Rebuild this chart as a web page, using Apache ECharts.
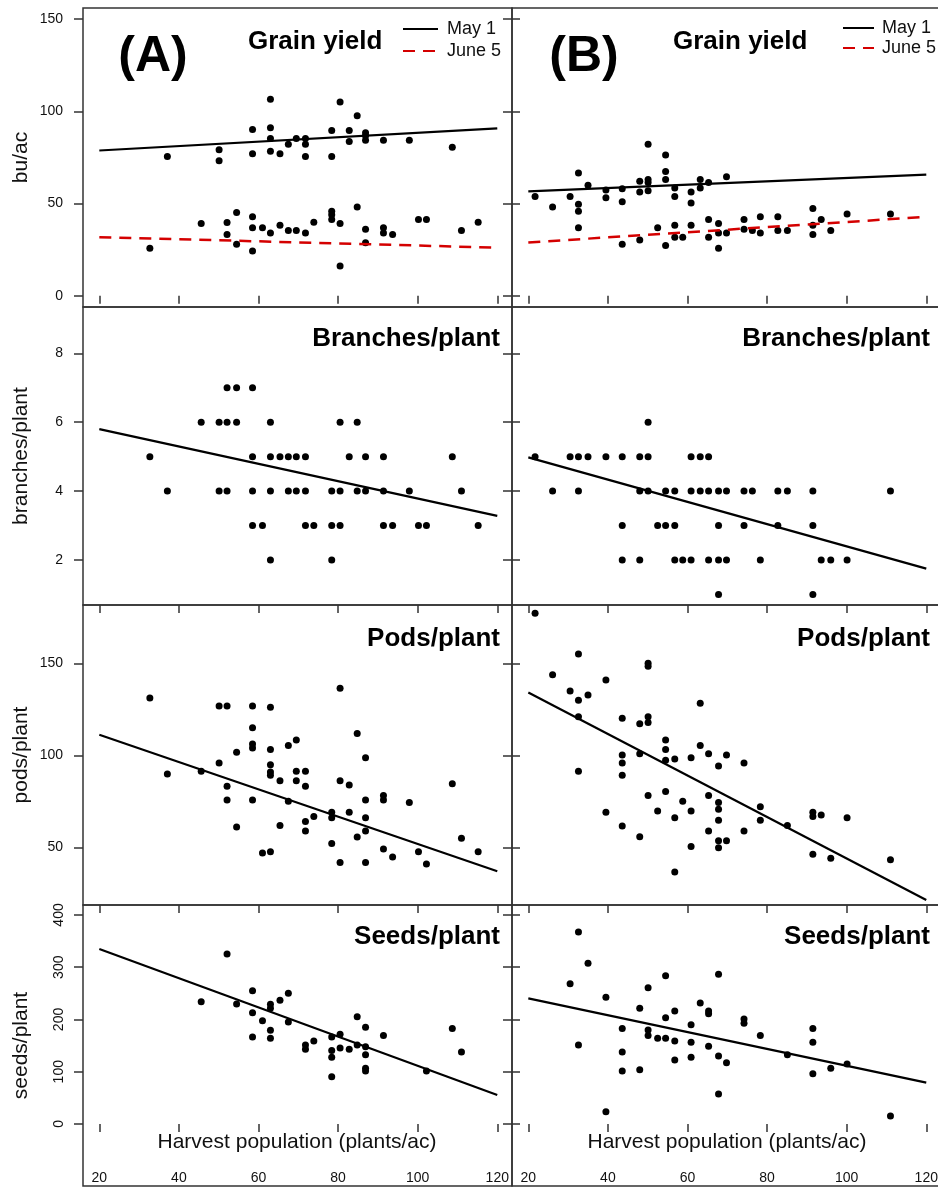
<!DOCTYPE html>
<html>
<head>
<meta charset="utf-8">
<script src="https://cdn.jsdelivr.net/npm/echarts@6.0.0/dist/echarts.min.js"></script>
<style>
html, body { margin: 0; padding: 0; background: #fff; overflow: hidden; }
#main { width: 946px; height: 1190px; }
</style>
</head>
<body>
<div id="main"></div>
<script>
var FONT = '"Liberation Sans", Arial, sans-serif';
var INK = '#111';

// x axis: harvest population (1000 plants/ac)
var xTicks = [20, 40, 60, 80, 100, 120];
var xMin = 15.9, xMax = 123.7;

// rows
var rowNames = ['bu/ac', 'branches/plant', 'pods/plant', 'seeds/plant'];
var rowTitles = ['Grain yield', 'Branches/plant', 'Pods/plant', 'Seeds/plant'];
var rowMin = [-6.1, 0.694, 18.64, -118.7];
var rowMax = [156.1, 9.344, 181.7, 419.1];
var rowTicks = [[0, 50, 100, 150], [2, 4, 6, 8], [50, 100, 150], [0, 100, 200, 300, 400]];

// (A) grain yield
var yieldMayA = [[37.1,75.5],[50.1,79.2],[50.1,73.2],[58.5,90.2],[58.5,77.0],[63.0,106.6],[63.0,91.1],[63.0,85.3],[63.0,78.4],[65.4,77.0],[67.5,82.2],[69.5,85.3],[71.8,85.3],[71.8,82.2],[71.8,75.5],[78.4,89.7],[78.4,75.5],[80.5,105.1],[82.8,89.7],[82.8,83.7],[84.8,97.7],[86.9,88.4],[86.9,86.8],[86.9,84.4],[91.4,84.4],[97.9,84.4],[108.7,80.6]];
var yieldJunA = [[32.7,25.8],[45.6,39.2],[52.1,39.8],[52.1,33.2],[54.5,45.2],[54.5,28.0],[58.5,42.8],[58.5,36.9],[58.5,24.3],[61.0,36.9],[63.0,34.0],[65.4,38.3],[67.5,35.4],[69.5,35.4],[71.8,34.0],[73.9,39.9],[78.4,45.8],[78.4,43.9],[78.4,41.4],[80.5,39.2],[80.5,16.2],[84.8,48.1],[86.9,36.1],[86.9,28.7],[91.4,36.9],[91.4,34.0],[93.7,33.2],[100.2,41.4],[102.2,41.4],[111.0,35.4],[115.2,39.9]];
var fitMayA = [[20, 78.8], [120, 90.8]];
var fitJunA = [[20, 31.8], [120, 26.1]];

// (B) grain yield
var yieldMayB = [[21.7,53.9],[26.1,48.1],[30.5,53.9],[32.6,66.6],[32.6,49.6],[32.6,45.9],[35.0,59.9],[39.5,57.4],[39.5,53.2],[43.6,58.1],[43.6,51.0],[48.0,62.1],[48.0,56.3],[50.1,82.2],[50.1,63.0],[50.1,61.4],[50.1,57.0],[54.5,76.3],[54.5,67.4],[54.5,63.0],[56.8,58.5],[56.8,53.9],[60.9,56.3],[60.9,50.3],[63.2,63.0],[63.2,58.5],[65.3,61.4],[69.8,64.5]];
var yieldJunB = [[32.6,36.9],[43.6,28.0],[48.0,30.3],[52.5,36.9],[54.5,27.2],[56.8,38.3],[56.8,31.8],[58.8,31.8],[60.9,38.3],[65.3,41.4],[65.3,31.8],[67.8,39.2],[67.8,34.0],[67.8,25.8],[69.8,34.0],[74.2,41.4],[74.2,36.1],[76.3,35.4],[78.3,42.8],[78.3,34.0],[82.7,42.8],[82.7,35.4],[85.1,35.4],[91.5,47.4],[91.5,38.3],[91.5,33.2],[93.6,41.4],[96.0,35.4],[100.1,44.3],[111.0,44.3]];
var fitMayB = [[20, 56.6], [120, 65.7]];
var fitJunB = [[20, 28.9], [120, 42.8]];

// branches/plant
var branchesA = [[52.1,7],[54.5,7],[58.5,7],
  [45.6,6],[50.1,6],[52.1,6],[54.5,6],[63.0,6],[80.5,6],[84.8,6],
  [32.7,5],[58.5,5],[63.0,5],[65.4,5],[67.5,5],[69.5,5],[71.8,5],[82.8,5],[86.9,5],[91.4,5],[108.7,5],
  [37.1,4],[50.1,4],[52.1,4],[58.5,4],[63.0,4],[67.5,4],[69.5,4],[71.8,4],[78.4,4],[80.5,4],[84.8,4],[86.9,4],[91.4,4],[97.9,4],[111.0,4],
  [58.5,3],[61.0,3],[71.8,3],[73.9,3],[78.4,3],[80.5,3],[91.4,3],[93.7,3],[100.2,3],[102.2,3],[115.2,3],
  [63.0,2],[78.4,2]];
var fitBranchesA = [[20, 5.80], [120, 3.28]];
var branchesB = [[50.1,6],
  [21.7,5],[30.5,5],[32.6,5],[35.0,5],[39.5,5],[43.6,5],[48.0,5],[50.1,5],[60.9,5],[63.2,5],[65.3,5],
  [26.1,4],[32.6,4],[48.0,4],[50.1,4],[54.5,4],[56.8,4],[60.9,4],[63.2,4],[65.3,4],[67.8,4],[69.8,4],[74.2,4],[76.3,4],[82.7,4],[85.1,4],[91.5,4],[111.0,4],
  [43.6,3],[52.5,3],[54.5,3],[56.8,3],[67.8,3],[74.2,3],[82.7,3],[91.5,3],
  [43.6,2],[48.0,2],[56.8,2],[58.8,2],[60.9,2],[65.3,2],[67.8,2],[69.8,2],[78.3,2],[93.6,2],[96.0,2],[100.1,2],
  [67.8,1],[91.5,1]];
var fitBranchesB = [[20, 4.98], [120, 1.75]];

// pods/plant
var podsA = [[32.7,131.2],[37.1,89.9],[45.6,91.3],[50.1,126.8],[50.1,95.8],[52.1,126.8],[52.1,83.2],[52.1,75.7],[54.5,101.6],[54.5,61.1],[58.5,126.8],[58.5,115.0],[58.5,106.2],[58.5,104.0],[58.5,75.7],[61.0,46.9],[63.0,126.1],[63.0,103.1],[63.0,94.9],[63.0,90.9],[63.0,89.1],[63.0,47.6],[65.4,86.2],[65.4,61.8],[67.5,105.3],[67.5,75.0],[69.5,108.3],[69.5,91.3],[69.5,86.2],[71.8,91.3],[71.8,83.2],[71.8,64.0],[71.8,58.8],[73.9,66.8],[78.4,69.0],[78.4,66.1],[78.4,52.0],[80.5,136.4],[80.5,86.2],[80.5,41.7],[82.8,83.9],[82.8,69.0],[84.8,111.9],[84.8,55.6],[86.9,98.7],[86.9,75.7],[86.9,66.1],[86.9,58.8],[86.9,41.7],[91.4,78.1],[91.4,75.7],[91.4,49.1],[93.7,44.7],[97.9,74.3],[100.2,47.6],[102.2,40.9],[108.7,84.6],[111.0,54.9],[115.2,47.6]];
var fitPodsA = [[20, 111.2], [120, 37.0]];
var podsB = [[21.7,177.2],[26.1,143.8],[30.5,135.0],[32.6,155.1],[32.6,129.9],[32.6,121.0],[32.6,91.3],[35.0,132.8],[39.5,140.9],[39.5,69.0],[43.6,120.1],[43.6,100.2],[43.6,95.8],[43.6,89.1],[43.6,61.6],[48.0,117.2],[48.0,100.9],[48.0,55.8],[50.1,150.0],[50.1,148.4],[50.1,121.0],[50.1,117.9],[50.1,78.1],[52.5,69.8],[54.5,108.3],[54.5,103.1],[54.5,97.3],[54.5,80.3],[56.8,98.0],[56.8,66.1],[56.8,36.6],[58.8,75.0],[60.9,98.7],[60.9,69.8],[60.9,50.5],[63.2,128.3],[63.2,105.3],[65.3,100.9],[65.3,78.1],[65.3,58.8],[67.8,94.2],[67.8,74.3],[67.8,70.7],[67.8,64.7],[67.8,53.6],[67.8,49.8],[69.8,100.2],[69.8,53.6],[74.2,95.8],[74.2,58.8],[78.3,72.1],[78.3,64.7],[85.1,61.8],[91.5,69.0],[91.5,66.8],[91.5,46.2],[93.6,67.6],[96.0,44.0],[100.1,66.1],[111.0,43.3]];
var fitPodsB = [[20, 134.1], [120, 21.4]];

// seeds/plant
var seedsA = [[45.6,234.1],[52.1,325.4],[54.5,229.7],[58.5,255.2],[58.5,213.1],[58.5,166.5],[61.0,197.8],[63.0,229.0],[63.0,221.4],[63.0,179.3],[63.0,163.9],[65.4,236.7],[67.5,250.1],[67.5,195.2],[71.8,151.2],[71.8,142.9],[73.9,158.9],[78.4,166.5],[78.4,140.4],[78.4,127.6],[78.4,90.6],[80.5,171.6],[80.5,145.5],[82.8,142.9],[84.8,205.4],[84.8,151.2],[86.9,185.0],[86.9,148.0],[86.9,132.7],[86.9,106.5],[86.9,101.4],[91.4,169.1],[102.2,101.4],[108.7,182.5],[111.0,137.8]];
var fitSeedsA = [[20, 334.9], [120, 55.5]];
var seedsB = [[30.5,268.6],[32.6,367.5],[32.6,151.2],[35.0,307.5],[39.5,242.4],[39.5,23.6],[43.6,182.5],[43.6,137.8],[43.6,101.4],[48.0,221.4],[48.0,104.0],[50.1,260.9],[50.1,179.9],[50.1,169.1],[52.5,163.9],[54.5,283.9],[54.5,203.5],[54.5,163.9],[56.8,216.3],[56.8,158.9],[56.8,122.5],[60.9,190.1],[60.9,156.3],[60.9,127.6],[63.2,231.6],[65.3,216.3],[65.3,211.2],[65.3,148.7],[67.8,286.4],[67.8,130.1],[67.8,57.4],[69.8,117.4],[74.2,200.9],[74.2,192.7],[78.3,169.1],[85.1,132.7],[91.5,182.5],[91.5,156.3],[91.5,96.3],[96.0,106.5],[100.1,114.8],[111.0,15.3]];
var fitSeedsB = [[20, 240.5], [120, 79.1]];

var points = [
  [[yieldMayA, yieldJunA], [yieldMayB, yieldJunB]],
  [[branchesA], [branchesB]],
  [[podsA], [podsB]],
  [[seedsA], [seedsB]]
];
var fits = [
  [[fitMayA, fitJunA], [fitMayB, fitJunB]],
  [[fitBranchesA], [fitBranchesB]],
  [[fitPodsA], [fitPodsB]],
  [[fitSeedsA], [fitSeedsB]]
];

// layout
var colLeft = [83, 512];
var colWidth = 429;
var rowTop = [8, 307, 605, 905];
var rowHeight = [299, 298, 300, 281];

var grids = [], xAxes = [], yAxes = [], series = [], extraY = [];

for (var r = 0; r < 4; r++) {
  for (var c = 0; c < 2; c++) {
    var p = r * 2 + c;
    grids.push({
      left: colLeft[c], top: rowTop[r], width: colWidth, height: rowHeight[r],
      show: true, borderColor: '#333', borderWidth: 1.5
    });
    xAxes.push({
      gridIndex: p, type: 'value', min: xMin, max: xMax,
      axisLine: { show: false },
      splitLine: { show: false },
      axisTick: { show: true, inside: false, length: 8, lineStyle: { color: '#333', width: 1.5 }, customValues: xTicks },
      axisLabel: {
        show: r === 3, inside: true, margin: 1, customValues: xTicks,
        fontSize: 14, color: INK, fontFamily: FONT
      }
    });
    yAxes.push({
      gridIndex: p, type: 'value', min: rowMin[r], max: rowMax[r],
      name: c === 0 ? rowNames[r] : '',
      nameLocation: 'middle', nameGap: 51,
      nameTextStyle: { fontSize: 21, color: INK, fontFamily: FONT },
      axisLine: { show: false },
      splitLine: { show: false },
      axisTick: { show: true, inside: false, length: 9, lineStyle: { color: '#333', width: 1.5 }, customValues: rowTicks[r] },
      axisLabel: {
        show: c === 0, customValues: rowTicks[r],
        margin: r === 3 ? 17 : 20, rotate: r === 3 ? 90 : 0,
        fontSize: 14, color: INK, fontFamily: FONT
      }
    });
    if (c === 0) {
      extraY.push({
        gridIndex: p, type: 'value', min: rowMin[r], max: rowMax[r], position: 'right',
        axisLine: { show: false },
        splitLine: { show: false },
        axisLabel: { show: false },
        axisTick: { show: true, inside: false, length: 8, lineStyle: { color: '#333', width: 1.5 }, customValues: rowTicks[r] }
      });
    }
    points[r][c].forEach(function (pts) {
      series.push({
        type: 'scatter', xAxisIndex: p, yAxisIndex: p, data: pts,
        symbolSize: 7, itemStyle: { color: '#000', opacity: 1 }, silent: true
      });
    });
    fits[r][c].forEach(function (fit, k) {
      var isJune = (r === 0 && k === 1);
      series.push({
        type: 'line', name: r === 0 ? (isJune ? 'June 5' : 'May 1') : 'fit',
        xAxisIndex: p, yAxisIndex: p, data: fit,
        symbol: 'none', silent: true,
        lineStyle: isJune ? { color: '#d40000', width: 2.5, type: [12, 8] } : { color: '#000', width: 2.2 },
        itemStyle: { color: isJune ? '#d40000' : '#000' }
      });
    });
  }
}
yAxes = yAxes.concat(extraY);

var graphics = [
  { type: 'text', x: 153, y: 57, style: { text: '(A)', fontSize: 50, fontWeight: 'bold', fontFamily: FONT, fill: '#000', align: 'center', verticalAlign: 'middle' } },
  { type: 'text', x: 584, y: 57, style: { text: '(B)', fontSize: 50, fontWeight: 'bold', fontFamily: FONT, fill: '#000', align: 'center', verticalAlign: 'middle' } },
  { type: 'text', x: 248, y: 42, style: { text: rowTitles[0], fontSize: 26, fontWeight: 'bold', fontFamily: FONT, fill: '#000', align: 'left', verticalAlign: 'middle' } },
  { type: 'text', x: 673, y: 42, style: { text: rowTitles[0], fontSize: 26, fontWeight: 'bold', fontFamily: FONT, fill: '#000', align: 'left', verticalAlign: 'middle' } }
];
var titleY = [339, 639, 937];
for (var t = 1; t < 4; t++) {
  [500, 930].forEach(function (xr) {
    graphics.push({ type: 'text', x: xr, y: titleY[t - 1], style: { text: rowTitles[t], fontSize: 26, fontWeight: 'bold', fontFamily: FONT, fill: '#000', align: 'right', verticalAlign: 'middle' } });
  });
}
[297, 727].forEach(function (xc) {
  graphics.push({ type: 'text', x: xc, y: 1142, style: { text: 'Harvest population (plants/ac)', fontSize: 21, fontFamily: FONT, fill: INK, align: 'center', verticalAlign: 'middle' } });
});

var myChart = echarts.init(document.getElementById('main'));

var option = {
  backgroundColor: '#fff',
  animation: false,
  grid: grids,
  xAxis: xAxes,
  yAxis: yAxes,
  legend: [
    {
      data: ['May 1', 'June 5'], orient: 'vertical', left: 397, top: 15,
      itemWidth: 35, itemHeight: 14, itemGap: 4, selectedMode: false,
      itemStyle: { opacity: 0, borderWidth: 0 },
      textStyle: { fontSize: 18, color: INK, fontFamily: FONT, padding: [0, 0, 0, 4] }
    },
    {
      data: ['May 1', 'June 5'], orient: 'vertical', left: 837, top: 14,
      itemWidth: 31, itemHeight: 14, itemGap: 2, selectedMode: false,
      itemStyle: { opacity: 0, borderWidth: 0 },
      textStyle: { fontSize: 18, color: INK, fontFamily: FONT, padding: [0, 0, 0, 3] }
    }
  ],
  graphic: graphics,
  series: series
};

myChart.setOption(option);
</script>
</body>
</html>
